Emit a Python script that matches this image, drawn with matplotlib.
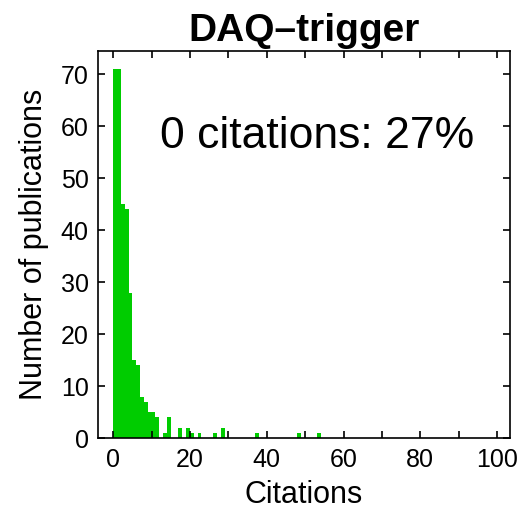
import matplotlib.pyplot as plt
import numpy as np

# citation counts per bin (bin k covers [k, k+1))
citations = [0, 1, 2, 3, 4, 5, 6, 7, 8, 9, 10, 11, 12, 13, 14,
             17, 19, 20, 22, 26, 28, 37, 48, 53]
n_pubs = [71, 71, 45, 44, 28, 15, 14, 8, 7, 5, 5, 4, 0, 1, 4,
          2, 2, 1, 1, 1, 2, 1, 1, 1]

title = 'DAQ\u2013trigger'
note = '0 citations: 27%'

plt.rcParams['font.family'] = ['Liberation Sans', 'DejaVu Sans']

fig = plt.figure(figsize=(5.17, 5.13), dpi=100)
ax = fig.add_axes([0.190, 0.1456, 0.796, 0.7556])

ax.bar(citations, n_pubs, width=1, align='edge', color='#00cc00', linewidth=0)

ax.set_xlim(-3.9, 103.3)
ax.set_ylim(0, 74.5)
ax.set_xticks(np.arange(0, 101, 20))
ax.set_xticks(np.arange(0, 101, 10), minor=True)
ax.set_yticks(np.arange(0, 71, 10))
ax.tick_params(which='both', direction='in', top=True, right=True,
               length=5, width=1.2, labelsize=18, pad=7)
for s in ax.spines.values():
    s.set_linewidth(1.2)

ax.set_title(title, fontsize=28, fontweight='bold', pad=7)
ax.set_xlabel('Citations', fontsize=22, labelpad=6)
ax.set_ylabel('Number of publications', fontsize=22, labelpad=8)
ax.text(12.2, 58, note, fontsize=32, ha='left', va='center')

fig.savefig('out.png')
